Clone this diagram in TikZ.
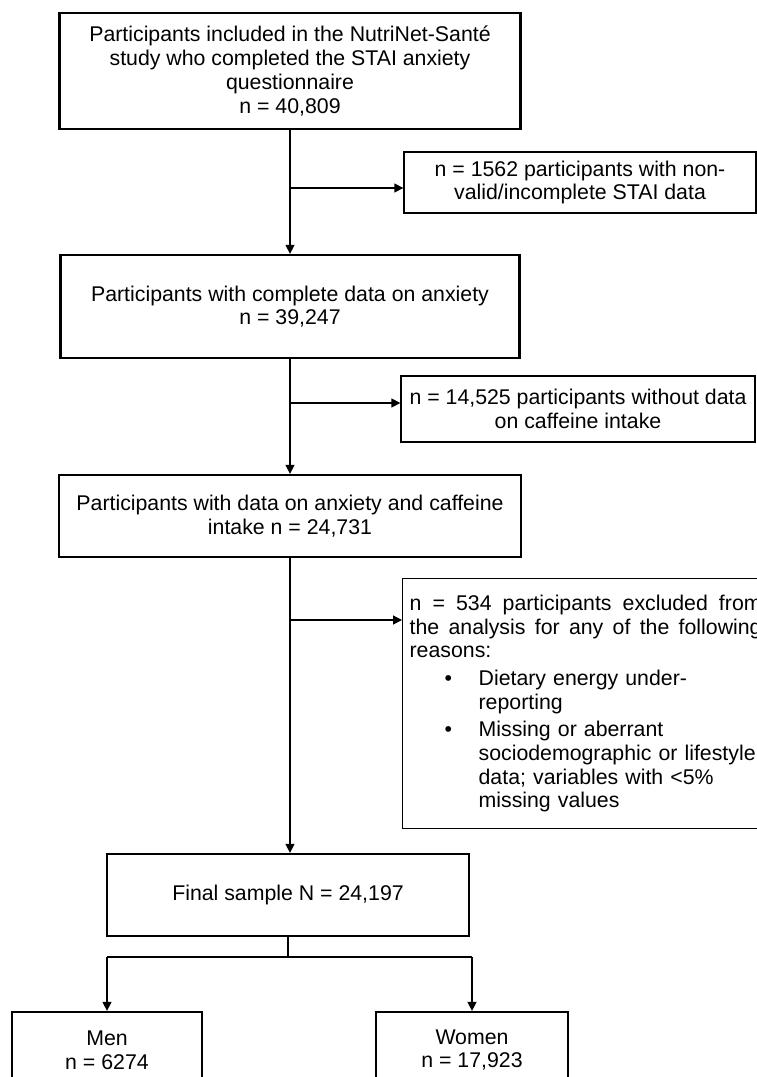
\documentclass[tikz,border=0pt]{standalone}
\usepackage{fontspec}
\setmainfont{Liberation Sans}
\usetikzlibrary{arrows.meta}
\newcommand{\fullline}[1]{\leavevmode\hbox to 352pt{\spaceskip=.278em plus 1fil\relax #1}}

\begin{document}
\begin{tikzpicture}[x=1pt,y=-1pt]
            % Define styles
            \tikzstyle{mainbox} = [draw,line width=2.3pt,fill=white,shape=rectangle,inner sep=0,align=center,font=\fontsize{21.3}{23.7}\selectfont]
            \tikzstyle{exclbox} = [draw,line width=1.3pt,fill=white,shape=rectangle,inner sep=0,align=center,font=\fontsize{21.3}{23.7}\selectfont]
            \tikzstyle{flowline} = [line width=1.3pt,-]
            \tikzstyle{flowarrow} = [line width=1.3pt,-{Triangle[length=9pt,width=9pt]}]
            \useasboundingbox (0,0) rectangle (756,1077);
            % Main stream of participants
                \node (incl) at (290,71) [mainbox,minimum width=461,minimum height=116]{Participants included in the NutriNet-Sant\'e\\study who completed the STAI anxiety\\questionnaire\\n = 40,809};
                \node (anx) at (290,306.5) [mainbox,minimum width=459,minimum height=103]{Participants with complete data on anxiety\\n = 39,247};
                \node (anxcaf) at (290,516) [mainbox,minimum width=462,minimum height=82]{Participants with data on anxiety and caffeine\\intake n = 24,731};
                \node (final) at (288,895) [mainbox,minimum width=362,minimum height=82]{Final sample N = 24,197};
            % Exclusions
                \node (excl1) at (580,182.5) [exclbox,minimum width=352,minimum height=61]{n = 1562 participants with non-\\valid/incomplete STAI data};
                \node (excl2) at (578,409) [exclbox,minimum width=354,minimum height=66]{n = 14,525 participants without data\\on caffeine intake};
                \node (excl3) at (402,578) [exclbox,anchor=north west,align=left,text width=370,inner xsep=7,minimum height=250]{%
                    \fullline{n = 534 participants excluded from}\\
                    \fullline{the analysis for any of the following}\\
                    reasons:\\[4pt]
                    \hspace*{35pt}\makebox[34pt][l]{\textbullet}Dietary energy under-\\
                    \hspace*{69pt}reporting\\[4pt]
                    \hspace*{35pt}\makebox[34pt][l]{\textbullet}Missing or aberrant\\
                    \hspace*{69pt}sociodemographic or lifestyle\\
                    \hspace*{69pt}data; variables with <5\%\\
                    \hspace*{69pt}missing values};
            % Split by sex
                \node (men) at (107,1050) [mainbox,minimum width=190,minimum height=76]{Men\\n = 6274};
                \node (women) at (472,1050) [mainbox,minimum width=192,minimum height=76]{Women\\n = 17,923};
            % Branch points
                \coordinate (b1) at (290,188);
                \coordinate (b2) at (290,403);
                \coordinate (b3) at (290,620);
                \coordinate (split) at (288,957);
            % Lines and arrows
                % Main stream
                    \draw [flowarrow] (incl.south) -- (incl.south |- anx.north);
                    \draw [flowarrow] (anx.south) -- (anx.south |- anxcaf.north);
                    \draw [flowarrow] (anxcaf.south) -- (anxcaf.south |- final.north);
                % To exclusions
                    \draw [flowarrow] (b1) -- (excl1.west |- b1);
                    \draw [flowarrow] (b2) -- (excl2.west |- b2);
                    \draw [flowarrow] (b3) -- (excl3.west |- b3);
                % Final sample to men and women
                    \draw [flowline] (final.south) -- (split);
                    \draw [flowline] (men.north |- split) -- (women.north |- split);
                    \draw [flowarrow] (men.north |- split) -- (men.north);
                    \draw [flowarrow] (women.north |- split) -- (women.north);
        \end{tikzpicture}
\end{document}
